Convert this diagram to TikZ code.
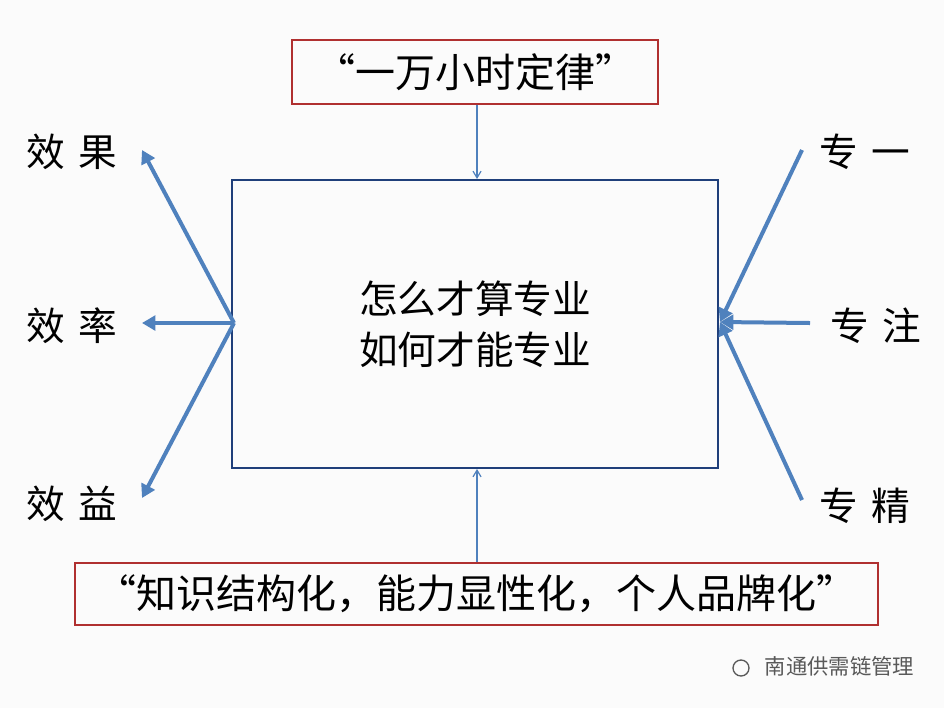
\documentclass[tikz,border=0pt]{standalone}
\usepackage{fontspec}
\setmainfont{Noto Sans CJK SC}
\usetikzlibrary{arrows.meta}
\definecolor{boxblue}{HTML}{1F3F7A}
\definecolor{arrblue}{HTML}{4F81BD}
\definecolor{boxred}{HTML}{B03030}
\tikzset{
  redbox/.style={draw=boxred,line width=1.2pt,inner sep=0pt},
  thick arr/.style={draw=arrblue,line width=3pt,-{Triangle[length=10pt,width=11pt]}},
  thin arr/.style={draw=arrblue,line width=0.9pt,-{Straight Barb[length=5pt,width=6pt]}},
  lab/.style={font=\fontsize{29}{32}\selectfont,inner sep=0pt}
}
\begin{document}
\begin{tikzpicture}[x=0.75pt,y=-0.75pt]
\fill[white!97!gray] (0,0) rectangle (944,708);
\useasboundingbox (0,0) rectangle (944,708);
\node[draw=boxblue,line width=1.5pt,minimum width=364.5pt,minimum height=216pt,align=center,font=\fontsize{29}{38}\selectfont] (main) at (475,324) {怎么才算专业\\如何才能专业};
\node[redbox,minimum width=274.5pt,minimum height=48pt,font=\fontsize{30}{32}\selectfont] (top) at (475,72) {“一万小时定律”};
\node[redbox,minimum width=602pt,minimum height=46.5pt,font=\fontsize{30}{32}\selectfont] (bot) at (476.5,594) {“知识结构化，能力显性化，个人品牌化”};
\draw[thin arr] (top.south -| 477,0) -- (main.north -| 477,0);
\draw[thin arr] (bot.north -| 477,0) -- (main.south -| 477,0);
\coordinate (L) at (234,323);
\coordinate (R1) at (802,150);
\coordinate (R2) at (810,323);
\coordinate (R3) at (802,500);
\coordinate (Rt) at (720,322);
\node[lab] (l1) at (72,152) {效\,\,果};
\node[lab] (l2) at (72,326) {效\,\,率};
\node[lab] (l3) at (72,504) {效\,\,益};
\node[lab] (r1) at (865,152) {专\,\,一};
\node[lab] (r2) at (876,326) {专\,\,注};
\node[lab] (r3) at (865,506) {专\,\,精};
\coordinate (a1) at (142,150);
\coordinate (a2) at (142,323);
\coordinate (a3) at (142,498);
\draw[thick arr] (L) -- (a1);
\draw[thick arr] (L) -- (a2);
\draw[thick arr] (L) -- (a3);
\draw[thick arr] (R1) -- (Rt);
\draw[thick arr] (R2) -- (Rt);
\draw[thick arr] (R3) -- (Rt);
\node[text=gray!70!black,font=\fontsize{16}{18}\selectfont,anchor=west] (wm) at (760,666) {南通供需链管理};
\node[draw=gray!70!black,circle,line width=1pt,minimum size=12pt,inner sep=0pt] (ic) at (741,668) {};
\end{tikzpicture}
\end{document}
